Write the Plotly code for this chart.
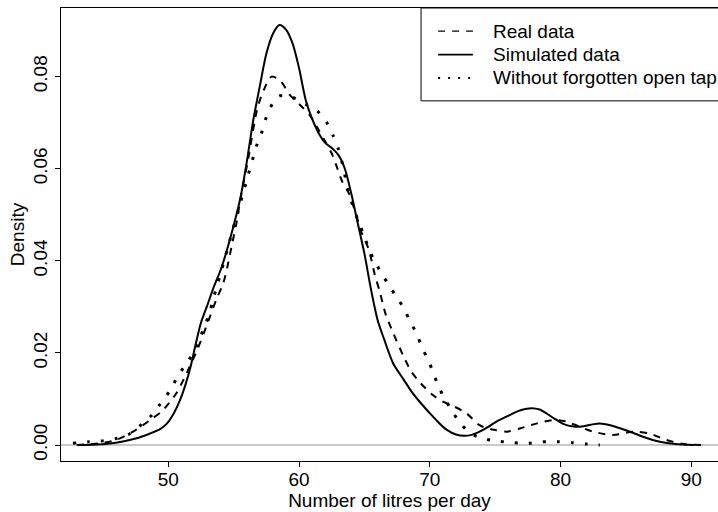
import plotly.graph_objects as go

# ---- data ----
series_names = ["Real data", "Simulated data", "Without forgotten open tap"]

real_x = [43.0, 44.0, 44.8, 46.0, 47.3, 48.6, 49.6, 50.6, 51.4, 52.2, 52.9, 53.7, 54.2,
          54.5, 54.9, 55.2, 55.5, 56.1, 56.8, 57.3, 57.9, 58.6, 59.3, 60.2, 60.8, 61.5,
          62.0, 62.5, 62.9, 63.3, 63.8, 64.2, 64.8, 65.3, 65.8, 66.2, 66.6, 67.2, 68.0,
          68.6, 69.3, 70.2, 71.0, 71.9, 72.8, 73.8, 74.9, 75.9, 76.9, 78.2, 79.4, 80.5,
          81.0, 82.5, 84.0, 85.6, 86.8, 88.1, 89.4, 90.9]
real_y = [0.0, 0.0002, 0.0004, 0.0011, 0.0029, 0.0054, 0.0076, 0.0112, 0.0156, 0.0206,
          0.0257, 0.0318, 0.0351, 0.0385, 0.0440, 0.0480, 0.0532, 0.0620, 0.0730, 0.0771,
          0.0800, 0.0790, 0.0760, 0.0735, 0.0717, 0.0684, 0.0659, 0.0633, 0.0603, 0.0572,
          0.0547, 0.0515, 0.0460, 0.0427, 0.0369, 0.0330, 0.0286, 0.0243, 0.0192, 0.0159,
          0.0134, 0.0109, 0.0094, 0.0083, 0.0069, 0.0043, 0.0033, 0.0029, 0.0036, 0.0047,
          0.0054, 0.0051, 0.0045, 0.0029, 0.0022, 0.0029, 0.0025, 0.0011, 0.0002, 0.0]

sim_x = [43.0, 44.5, 46.0, 47.5, 48.6, 49.4, 49.9, 50.4, 50.9, 51.3, 51.7, 52.1, 52.5,
         53.0, 53.5, 54.0, 54.5, 55.0, 55.5, 56.0, 56.5, 57.0, 57.5, 58.0, 58.5, 59.0,
         59.5, 60.0, 60.5, 61.0, 61.5, 62.0, 62.5, 63.0, 63.5, 64.0, 64.5, 65.0, 65.5,
         66.0, 66.5, 67.2, 68.0, 68.7, 69.4, 70.0, 70.7, 71.3, 72.0, 72.6, 73.2, 73.8,
         74.5, 75.1, 75.9, 76.7, 77.3, 77.8, 78.4, 78.9, 79.5, 80.2, 81.0, 81.6, 82.3,
         83.0, 83.8, 85.1, 86.3, 87.6, 88.8, 90.2]
sim_y = [0.0, 0.0001, 0.0005, 0.0014, 0.0025, 0.0035, 0.0047, 0.0068, 0.0098, 0.0130,
         0.0170, 0.0220, 0.0266, 0.0305, 0.0345, 0.0380, 0.0425, 0.0477, 0.0535, 0.0615,
         0.0706, 0.0780, 0.0850, 0.0893, 0.0912, 0.0902, 0.0872, 0.0818, 0.0750, 0.0708,
         0.0677, 0.0656, 0.0645, 0.0630, 0.0600, 0.0545, 0.0480, 0.0415, 0.0338, 0.0272,
         0.0230, 0.0177, 0.0142, 0.0112, 0.0088, 0.0069, 0.0048, 0.0033, 0.0023, 0.0020,
         0.0022, 0.0029, 0.0040, 0.0051, 0.0062, 0.0073, 0.0078, 0.0080, 0.0077, 0.0069,
         0.0058, 0.0046, 0.0040, 0.0040, 0.0044, 0.0047, 0.0043, 0.0031, 0.0018, 0.0007,
         0.0002, 0.0]

notap_x = [42.7, 43.9, 45.0, 46.0, 47.1, 48.0, 48.8, 49.4, 50.1, 50.6, 51.2, 51.8, 52.3,
           52.7, 53.1, 53.4, 53.7, 54.0, 54.3, 54.6, 54.9, 55.2, 55.5, 55.8, 56.1, 56.4,
           56.7, 57.1, 57.4, 57.8, 58.5, 59.5, 60.5, 61.4, 62.1, 62.6, 63.0, 63.3, 63.7,
           64.1, 64.5, 64.9, 65.3, 65.7, 66.2, 66.8, 67.4, 68.0, 68.5, 69.0, 69.4, 69.9,
           70.3, 70.7, 71.2, 71.8, 72.4, 73.2, 74.2, 75.3, 76.4, 77.5, 78.6, 79.8, 80.9,
           82.0, 83.0]
notap_y = [0.0004, 0.0007, 0.0009, 0.0014, 0.0025, 0.0046, 0.0067, 0.0090, 0.0117, 0.0143,
           0.0170, 0.0195, 0.0224, 0.0253, 0.0282, 0.0313, 0.0344, 0.0373, 0.0403, 0.0434,
           0.0465, 0.0494, 0.0525, 0.0555, 0.0586, 0.0615, 0.0646, 0.0675, 0.0704, 0.0733,
           0.0758, 0.0755, 0.0740, 0.0725, 0.0701, 0.0672, 0.0643, 0.0612, 0.0560, 0.0520,
           0.0489, 0.0460, 0.0429, 0.0403, 0.0378, 0.0350, 0.0324, 0.0297, 0.0268, 0.0241,
           0.0212, 0.0183, 0.0154, 0.0125, 0.0098, 0.0069, 0.0045, 0.0024, 0.0013, 0.0008,
           0.0005, 0.0004, 0.0007, 0.0007, 0.0005, 0.0002, 0.0]

x_ticks = [50, 60, 70, 80, 90]
y_ticks = [0.00, 0.02, 0.04, 0.06, 0.08]
x_title = "Number of litres per day"
y_title = "Density"

FONT = "Liberation Sans, Arial, Helvetica, sans-serif"
FS = 19

# line styles per series (curve style, legend-sample style)
styles = [
    dict(dash="7px,7px", width=2, leg_dash="7px,7px", leg_width=1.2),
    dict(dash="solid", width=2, leg_dash="solid", leg_width=1.6),
    dict(dash="3px,11px", width=3, leg_dash="2px,8px", leg_width=2),
]

fig = go.Figure()
for name, xs, ys, st in zip(series_names, [real_x, sim_x, notap_x],
                            [real_y, sim_y, notap_y], styles):
    fig.add_trace(go.Scatter(x=xs, y=ys, mode="lines", name=name, showlegend=False,
                             line=dict(color="black", width=st["width"], dash=st["dash"],
                                       shape="spline", smoothing=0.8)))

# legend drawn in paper coordinates (box runs off the right edge as in the reference)
leg_left, leg_bottom = 0.548, 0.795
row_y = [0.949, 0.897, 0.8455]
sample_x0, sample_x1, text_x = 0.574, 0.627, 0.654
shapes = [dict(type="rect", xref="paper", yref="paper", x0=leg_left, x1=1.3,
               y0=leg_bottom, y1=1.0, line=dict(color="black", width=1),
               fillcolor="white", layer="above")]
annotations = []
for name, ry, st in zip(series_names, row_y, styles):
    shapes.append(dict(type="line", xref="paper", yref="paper", x0=sample_x0, x1=sample_x1,
                       y0=ry, y1=ry, layer="above",
                       line=dict(color="black", width=st["leg_width"], dash=st["leg_dash"])))
    annotations.append(dict(xref="paper", yref="paper", x=text_x, y=ry, text=name,
                            showarrow=False, xanchor="left", yanchor="middle",
                            font=dict(family=FONT, size=FS, color="black")))

fig.update_layout(
    width=718, height=512,
    margin=dict(l=61, r=0, t=8, b=51, autoexpand=False),
    paper_bgcolor="white", plot_bgcolor="white",
    font=dict(family=FONT, size=FS, color="black"),
    showlegend=False,
    shapes=shapes, annotations=annotations,
    xaxis=dict(range=[41.79, 92.04], tickvals=x_ticks, ticktext=[str(v) for v in x_ticks],
               showgrid=False, zeroline=False, showline=True, linecolor="black",
               linewidth=1, mirror=True, ticks="outside", ticklen=5, tickcolor="black",
               ticklabelstandoff=-4,
               title=dict(text=x_title, standoff=4, font=dict(size=FS)), automargin=False),
    yaxis=dict(range=[-0.00347, 0.0949], tickvals=y_ticks,
               ticktext=["%.2f" % v for v in y_ticks], tickangle=-90,
               showgrid=False, zeroline=True, zerolinecolor="#c8c8c8", zerolinewidth=1.5,
               showline=True, linecolor="black", linewidth=1, ticks="outside",
               ticklen=5, tickcolor="black",
               title=dict(text=y_title, standoff=0, font=dict(size=FS)), automargin=False),
)

fig.write_html("out.html", config={"displayModeBar": False},
               post_script="document.body.style.margin='0';"
                           "document.body.style.overflow='hidden';")
